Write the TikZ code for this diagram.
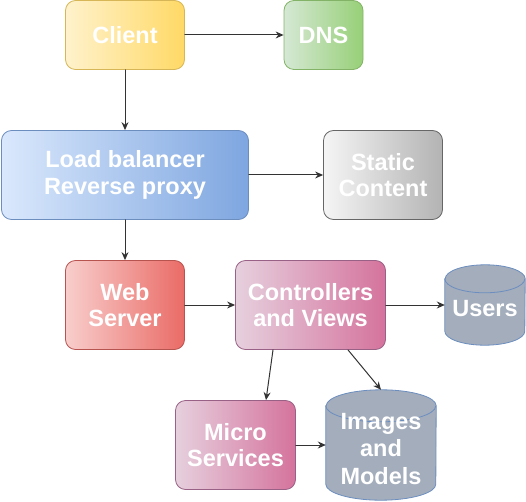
\documentclass[tikz,border=0pt]{standalone}
\usepackage{fontspec}
\setmainfont{Liberation Sans}
\usetikzlibrary{arrows.meta,backgrounds}

\definecolor{linegray}{HTML}{333333}
\definecolor{dbfill}{HTML}{A3ADBC}
\definecolor{dbline}{HTML}{6C8EBF}

\tikzset{
  box/.style={rounded corners=10pt, draw, line width=0.8pt, align=center,
    text=white, inner sep=0pt,
    font=\bfseries\fontsize{23.5}{26.5}\selectfont},
  arrow/.style={draw=linegray, line width=1pt, -{Stealth[length=8pt,width=7pt]}},
  dbnode/.style={align=center, text=white, inner sep=0pt,
    font=\bfseries\fontsize{23.5}{27.5}\selectfont}
}

% cylinder round a node, drawn 4pt higher than the text: name, x radius, y radius
\newcommand{\dbshape}[3]{%
  \draw[dbline, line width=0.8pt, fill=dbfill]
    ([yshift=-#3pt+4pt]#1.north west) -- ([yshift=#3pt+4pt]#1.south west)
    arc[start angle=180, end angle=360, x radius=#2pt, y radius=#3pt]
    -- ([yshift=-#3pt+4pt]#1.north east)
    arc[start angle=0, end angle=180, x radius=#2pt, y radius=#3pt] -- cycle;
  \draw[dbline, line width=0.8pt] ([yshift=-#3pt+4pt]#1.north west)
    arc[start angle=180, end angle=360, x radius=#2pt, y radius=#3pt];
}

\begin{document}
\begin{tikzpicture}[x=1pt, y=1pt, line cap=round, line join=round]

\useasboundingbox (0,0) rectangle (526,501);

% --- Boxes ---
\node[box, draw={rgb,255:red,214;green,182;blue,86},
  left color={rgb,255:red,255;green,242;blue,204},
  right color={rgb,255:red,255;green,217;blue,102},
  minimum width=119, minimum height=69] (client) at (125,466) {Client};
\node[box, draw={rgb,255:red,130;green,179;blue,102},
  left color={rgb,255:red,213;green,232;blue,212},
  right color={rgb,255:red,151;green,208;blue,119},
  minimum width=79, minimum height=69] (dns) at (323.5,466) {DNS};
\node[box, draw={rgb,255:red,108;green,142;blue,191},
  left color={rgb,255:red,218;green,232;blue,252},
  right color={rgb,255:red,126;green,166;blue,224},
  minimum width=247, minimum height=89] (lb) at (125,326) {Load balancer\\Reverse proxy};
\node[box, draw={rgb,255:red,102;green,102;blue,102},
  left color={rgb,255:red,245;green,245;blue,245},
  right color={rgb,255:red,179;green,179;blue,179},
  minimum width=119, minimum height=89] (static) at (383,326) {Static\\Content};
\node[box, draw={rgb,255:red,184;green,84;blue,80},
  left color={rgb,255:red,248;green,206;blue,204},
  right color={rgb,255:red,234;green,107;blue,102},
  minimum width=119, minimum height=89] (web) at (125,196) {Web\\Server};
\node[box, draw={rgb,255:red,153;green,97;blue,133},
  left color={rgb,255:red,230;green,208;blue,222},
  right color={rgb,255:red,213;green,115;blue,157},
  minimum width=150, minimum height=89] (ctrl) at (310.5,196) {Controllers\\and Views};
\node[box, draw={rgb,255:red,153;green,97;blue,133},
  left color={rgb,255:red,230;green,208;blue,222},
  right color={rgb,255:red,213;green,115;blue,157},
  minimum width=120, minimum height=89] (micro) at (235.5,56) {Micro\\Services};

% --- Databases ---
\node[dbnode, minimum width=80, minimum height=80] (users) at (485,192) {Users};
\node[dbnode, minimum width=110, minimum height=110] (images) at (381,52) {Images\\and\\Models};
\begin{scope}[on background layer]
  \dbshape{users}{40}{14}
  \dbshape{images}{55}{16}
\end{scope}

% --- Arrows ---
\draw[arrow] (client) -- (dns);
\draw[arrow] (client) -- (lb);
\draw[arrow] (lb) -- (static);
\draw[arrow] (lb) -- (web);
\draw[arrow] (web) -- (ctrl);
\draw[arrow] (ctrl.east) -- (ctrl.east -| users.west);
\draw[arrow] ([xshift=-37.5]ctrl.south) -- ([xshift=30.5]micro.north);
\draw[arrow] ([xshift=37.5]ctrl.south) -- ([yshift=4]images.north);
\draw[arrow] (micro.east) -- (micro.east -| images.west);

\end{tikzpicture}
\end{document}
